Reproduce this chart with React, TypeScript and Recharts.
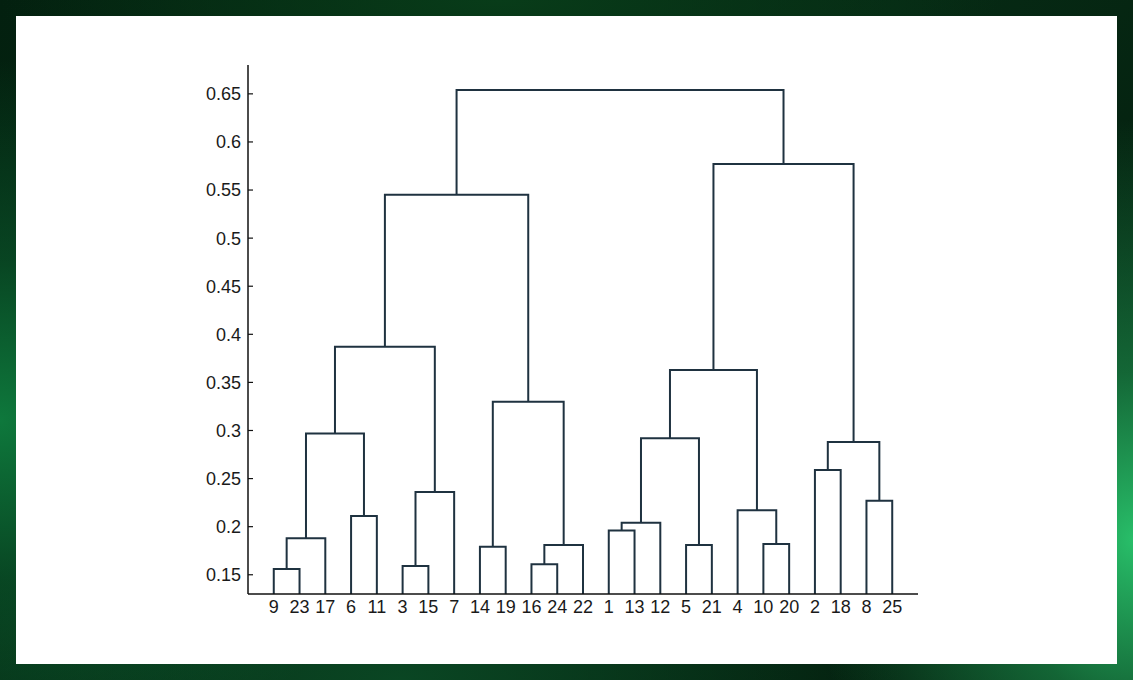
import React from "react";
import { ComposedChart, Line, XAxis, YAxis } from "recharts";

// Leaf labels in the order they appear along the x axis
const leafOrder = [9, 23, 17, 6, 11, 3, 15, 7, 14, 19, 16, 24, 22, 1, 13, 12, 5, 21, 4, 10, 20, 2, 18, 8, 25];

// Linkage rows: [child A, child B, merge height]; cluster ids continue from 26
const linkage: [number, number, number][] = [
  [9, 23, 0.156], // 26
  [3, 15, 0.159], // 27
  [16, 24, 0.161], // 28
  [14, 19, 0.179], // 29
  [5, 21, 0.181], // 30
  [28, 22, 0.181], // 31
  [10, 20, 0.182], // 32
  [26, 17, 0.188], // 33
  [1, 13, 0.196], // 34
  [34, 12, 0.204], // 35
  [6, 11, 0.211], // 36
  [4, 32, 0.217], // 37
  [8, 25, 0.227], // 38
  [27, 7, 0.236], // 39
  [2, 18, 0.259], // 40
  [40, 38, 0.288], // 41
  [35, 30, 0.292], // 42
  [33, 36, 0.297], // 43
  [29, 31, 0.33], // 44
  [42, 37, 0.363], // 45
  [43, 39, 0.387], // 46
  [46, 44, 0.545], // 47
  [45, 41, 0.577], // 48
  [47, 48, 0.654], // 49
];

const yTicks = [0.15, 0.2, 0.25, 0.3, 0.35, 0.4, 0.45, 0.5, 0.55, 0.6, 0.65];
const xTicks = leafOrder.map((_, i) => i + 1);
const Y_MIN = 0.13;
const Y_MAX = 0.68;

const LINE = "#1f3240";
const FONT = "'Liberation Sans', Arial, sans-serif";

function buildLinks() {
  const n = leafOrder.length;
  const pos: Record<number, { x: number; y: number }> = {};
  leafOrder.forEach((label, i) => {
    pos[label] = { x: i + 1, y: Y_MIN };
  });
  return linkage.map(([a, b, h], k) => {
    const pa = pos[a];
    const pb = pos[b];
    pos[n + 1 + k] = { x: (pa.x + pb.x) / 2, y: h };
    return [
      { x: pa.x, y: pa.y },
      { x: pa.x, y: h },
      { x: pb.x, y: h },
      { x: pb.x, y: pb.y },
    ];
  });
}

const links = buildLinks();

export default function App() {
  return (
    <div style={{ position: "absolute", left: 0, top: 0, width: 1133, height: 680, overflow: "hidden" }}>
      <div
        style={{
          position: "absolute",
          inset: 0,
          background:
            "radial-gradient(ellipse 320px 420px at 1133px 540px, rgba(40,190,105,1) 0%, rgba(30,150,80,0.6) 40%, rgba(20,90,45,0) 100%)," +
            "radial-gradient(ellipse 420px 360px at 0px 420px, rgba(14,120,60,1) 0%, rgba(10,90,45,0.6) 45%, rgba(5,50,25,0) 100%)," +
            "radial-gradient(ellipse 500px 200px at 400px 680px, rgba(10,70,35,1) 0%, rgba(8,50,25,0) 100%)," +
            "radial-gradient(ellipse 500px 120px at 500px 0px, rgba(8,60,25,1) 0%, rgba(4,35,15,0) 100%)," +
            "linear-gradient(135deg, #03200f 0%, #062a14 50%, #031a0c 100%)",
        }}
      />
      <div style={{ position: "absolute", left: 16, top: 16, width: 1101, height: 648, background: "#ffffff" }} />
      <div style={{ position: "absolute", left: 0, top: 0 }}>
        <ComposedChart width={1133} height={680} margin={{ top: 65, right: 215, bottom: 56, left: 0 }}>
          <XAxis
            type="number"
            dataKey="x"
            domain={[0, 26]}
            ticks={xTicks}
            tickFormatter={(v: number) => String(leafOrder[v - 1])}
            interval={0}
            tickLine={false}
            tickSize={0}
            tickMargin={6}
            height={30}
            axisLine={{ stroke: "#111", strokeWidth: 1.5 }}
            tick={{ fill: "#1a1a1a", fontSize: 18, fontFamily: FONT }}
            allowDuplicatedCategory={false}
          />
          <YAxis
            type="number"
            domain={[Y_MIN, Y_MAX]}
            ticks={yTicks}
            tickFormatter={(v: number) => String(v)}
            interval={0}
            width={248}
            tickSize={-5}
            tickMargin={12}
            tickLine={{ stroke: "#111", strokeWidth: 1.2 }}
            axisLine={{ stroke: "#111", strokeWidth: 1.5 }}
            tick={{ fill: "#1a1a1a", fontSize: 18, fontFamily: FONT }}
            allowDataOverflow
          />
          {links.map((d, i) => (
            <Line
              key={i}
              data={d}
              dataKey="y"
              type="linear"
              stroke={LINE}
              strokeWidth={2}
              dot={false}
              activeDot={false}
              isAnimationActive={false}
            />
          ))}
        </ComposedChart>
      </div>
    </div>
  );
}
